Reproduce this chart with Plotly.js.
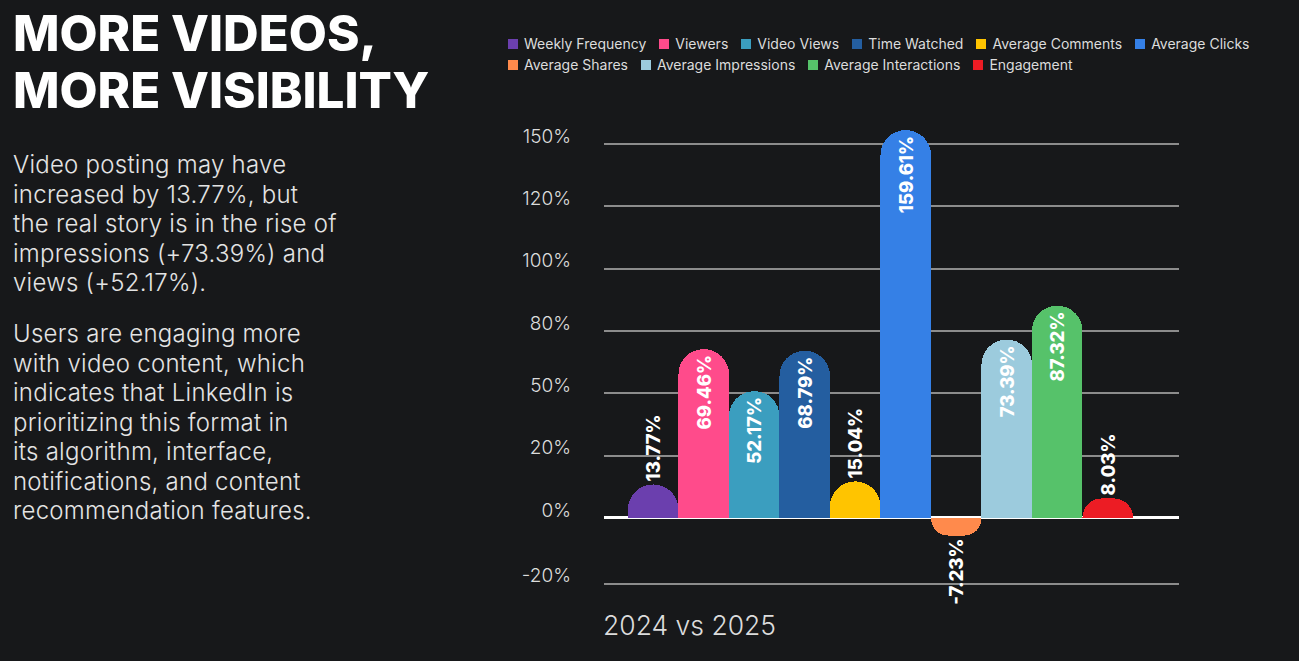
<!DOCTYPE html>
<html>
<head>
<meta charset="utf-8">
<script src="https://cdn.plot.ly/plotly-3.0.1.min.js"></script>
<style>
  html, body { margin: 0; padding: 0; background: #17181a; width: 1299px; height: 661px; overflow: hidden; font-family: Inter, "Noto Sans", sans-serif; }
  #chart { position: absolute; left: 0; top: 0; width: 1299px; height: 661px; }
  #title { position: absolute; left: 13px; top: 5px; color: #ffffff; font-size: 49.3px; font-weight: 800; line-height: 57px; white-space: nowrap; }
  .para { position: absolute; left: 13px; color: #e4e4e4; font-family: "Inter Light", Inter, "Noto Sans", sans-serif; font-size: 24px; font-weight: 300; line-height: 29.5px; white-space: nowrap; letter-spacing: 0.25px; }
  #p1 { top: 150px; }
  #p2 { top: 319px; }
  #legend { position: absolute; left: 508px; top: 33px; color: #dcdcdc; font-size: 14px; line-height: 21px; }
  .lrow { display: flex; white-space: nowrap; }
  .litem { display: flex; align-items: center; margin-right: 13px; }
  .lsq { width: 10px; height: 10px; margin-right: 6px; }
</style>
</head>
<body>
<div id="chart"></div>
<div id="title">MORE VIDEOS,<br>MORE VISIBILITY</div>
<div class="para" id="p1">Video posting may have<br>increased by 13.77%, but<br>the real story is in the rise of<br>impressions (+73.39%) and<br>views (+52.17%).</div>
<div class="para" id="p2">Users are engaging more<br>with video content, which<br>indicates that LinkedIn is<br>prioritizing this format in<br>its algorithm, interface,<br>notifications, and content<br>recommendation features.</div>
<div id="legend"></div>
<script>
// ---- data ----
const period = "2024 vs 2025";
const metrics = ["Weekly Frequency", "Viewers", "Video Views", "Time Watched", "Average Comments",
                 "Average Clicks", "Average Shares", "Average Impressions", "Average Interactions", "Engagement"];
const changes = [13.77, 69.46, 52.17, 68.79, 15.04, 159.61, -7.23, 73.39, 87.32, 8.03];
const colors = ["#6b3fae", "#ff4b8b", "#3b9ebf", "#245ea0", "#ffc400",
                "#3580e6", "#ff8a4c", "#9ccbdd", "#56c26a", "#ec1c24"];
const tickValues = [-27, 0, 25.65, 51.3, 76.95, 102.6, 128.25, 153.9];
const tickLabels = ["-20%", "0%", "20%", "50%", "80%", "100%", "120%", "150%"];
const legendRows = [[0, 1, 2, 3, 4, 5], [6, 7, 8, 9]];

const lightFont = "Inter Light, Inter, Noto Sans, sans-serif";

// ---- traces ----
const traces = metrics.map((name, i) => {
  const inside = Math.abs(changes[i]) > 40;
  return {
    type: "bar",
    name: name,
    x: [0],
    y: [changes[i]],
    marker: { color: colors[i], line: { width: 0 } },
    texttemplate: "%{y:.2f}%",
    textposition: inside ? "inside" : "outside",
    insidetextanchor: "end",
    textangle: -90,
    constraintext: "none",
    cliponaxis: false,
    textfont: { family: "Inter, Noto Sans, sans-serif", size: 18.5, color: "#ffffff", weight: 800 },
    hoverinfo: "skip"
  };
});

const layout = {
  width: 1299,
  height: 661,
  paper_bgcolor: "#17181a",
  plot_bgcolor: "#17181a",
  margin: { l: 604, r: 120, t: 117, b: 58 },
  showlegend: false,
  barmode: "group",
  bargap: 0,
  bargroupgap: 0,
  barcornerradius: "50%",
  font: { family: "Inter, Noto Sans, sans-serif", color: "#dcdcdc" },
  xaxis: {
    type: "linear",
    range: [-0.5475, 0.5911],
    showticklabels: false,
    showgrid: false,
    zeroline: false,
    showline: false,
    ticks: ""
  },
  yaxis: {
    range: [-35, 165],
    tickmode: "array",
    tickvals: tickValues,
    ticktext: tickLabels,
    tickfont: { family: lightFont, size: 19, color: "#dcdcdc", weight: 300 },
    ticklabelstandoff: 32,
    ticklabelshift: -8,
    showgrid: true,
    gridcolor: "#8c8c8c",
    gridwidth: 2,
    zeroline: true,
    zerolinecolor: "#ffffff",
    zerolinewidth: 3,
    showline: false,
    ticks: ""
  },
  annotations: [{
    text: period,
    xref: "paper", yref: "paper",
    x: 0, y: 0,
    xanchor: "left", yanchor: "top",
    xshift: -3,
    yshift: -4,
    showarrow: false,
    font: { family: lightFont, size: 26.5, color: "#dcdcdc", weight: 300 }
  }]
};

Plotly.newPlot("chart", traces, layout, { displayModeBar: false, staticPlot: true });

// ---- legend (built from the same arrays) ----
const legendEl = document.getElementById("legend");
legendRows.forEach(row => {
  const r = document.createElement("div");
  r.className = "lrow";
  row.forEach(i => {
    const it = document.createElement("div");
    it.className = "litem";
    const sq = document.createElement("div");
    sq.className = "lsq";
    sq.style.background = colors[i];
    const tx = document.createElement("span");
    tx.textContent = metrics[i];
    it.appendChild(sq);
    it.appendChild(tx);
    r.appendChild(it);
  });
  legendEl.appendChild(r);
});
</script>
</body>
</html>
